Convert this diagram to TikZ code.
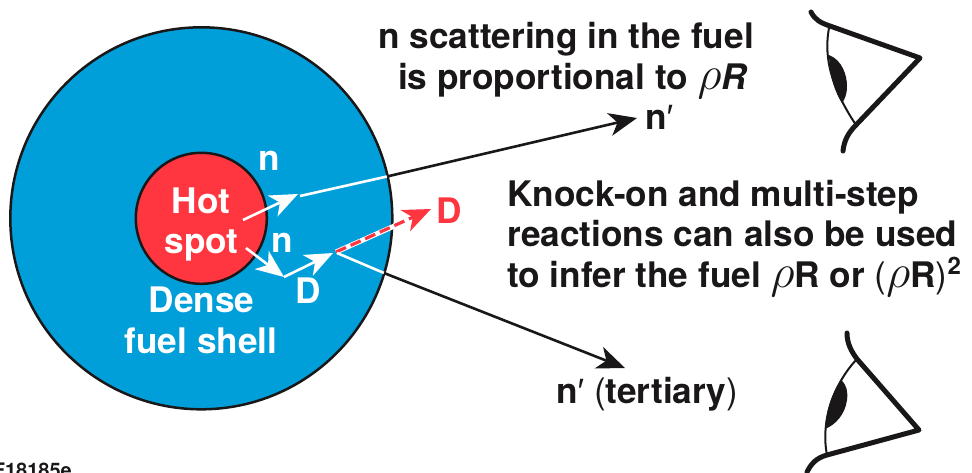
\documentclass[tikz,border=0pt]{standalone}
\usepackage{fontspec}
\setmainfont{TeX Gyre Heros}
\newfontfamily\primefont{Liberation Sans}
\usetikzlibrary{arrows.meta}
\definecolor{shellblue}{HTML}{009FDA}
\definecolor{spotred}{HTML}{FF3640}
\definecolor{inkblack}{HTML}{1A1718}
\newcommand{\rhoit}{\scalebox{1.9}{$\rho$}}
\newcommand{\primemark}{{\primefont\mdseries ′}}
\tikzset{
    lbl/.style={font=\fontsize{35.2}{42}\selectfont\bfseries, text=inkblack, inner sep=0pt, align=center, anchor=base},
    wlbl/.style={lbl, text=white},
    ray/.style={line width=2.6pt, color=inkblack},
    wray/.style={line width=2.6pt, color=white},
    tip/.style={-{Stealth[length=28pt, width=23pt, inset=8pt]}},
    eyelid/.style={line width=5pt, color=inkblack, line cap=round, line join=round},
    eyeline/.style={line width=2pt, color=inkblack}
}
\begin{document}
\begin{tikzpicture}[x=1pt, y=-1pt]
        \useasboundingbox (0,0) rectangle (972,472);

        \node[circle, draw=inkblack, line width=2.5pt, fill=shellblue, minimum size=382pt, inner sep=0pt] (shell) at (201.3,218.3) {};
        \node[circle, draw=inkblack, line width=2.5pt, fill=spotred, minimum size=131pt, inner sep=0pt] (spot) at (201.3,218.3) {};

        % points along the rays
        \coordinate (nA) at (243,220);
        \coordinate (nB) at (298,194);
        \coordinate (nC) at (300,196);
        \coordinate (nD) at (387,176.5);
        \coordinate (nE) at (637,118);
        \coordinate (mA) at (246,248);
        \coordinate (mB) at (284,277);
        \coordinate (mC) at (333,253);
        \coordinate (mD) at (336,252);
        \coordinate (mE) at (410,219);
        \coordinate (mF) at (431,209);
        \coordinate (tA) at (337,253);
        \coordinate (tB) at (384,273);
        \coordinate (tC) at (625,368);

        \draw[wray, tip] (nA) -- (nB);
        \draw[wray] (nC) -- (nD);
        \draw[ray, tip] (nD) -- (nE);
        \draw[wray, tip] (mA) -- (mB);
        \draw[wray, tip] (mB) -- (mC);
        \draw[wray, line width=5pt] (mD) -- (mE);
        \draw[color=spotred, line width=3.2pt, dash pattern=on 11pt off 5pt, tip] (mD) -- (mF);
        \draw[wray] (tA) -- (tB);
        \draw[ray, tip] (tB) -- (tC);

        \node[wlbl] (hot) at (201,213) {Hot};
        \node[wlbl] (spotlbl) at (201.5,253) {spot};
        \node[wlbl] (dense) at (201.5,312) {Dense};
        \node[wlbl] (fuel) at (201,353) {fuel shell};
        \node[wlbl] (nup) at (269.5,170) {n};
        \node[wlbl] (nlow) at (282.5,252) {n};
        \node[wlbl] (dlow) at (308,303) {D};
        \node[lbl, text=spotred] (dout) at (449,223) {D};
        \node[lbl, anchor=base west] (nprime) at (645,129) {n\primemark};
        \node[lbl, anchor=base west] (ntert) at (556,403) {n\primemark{} {\mdseries (}tertiary{\mdseries )}};
        \node[lbl, anchor=base east] (titleA) at (754,48) {n scattering in the fuel};
        \node[lbl, anchor=base east] (titleB) at (748,89) {is proportional to \rhoit\textit{R}};
        \node[lbl, anchor=base west] (knockA) at (507,206) {Knock-on and multi-step};
        \node[lbl, anchor=base west] (knockB) at (507,246) {reactions can also be used};
        \node[lbl, anchor=base west] (knockC) at (507,287) {to infer the fuel \rhoit R or {\mdseries (}\rhoit R{\mdseries )}\raisebox{13pt}{\fontsize{24}{24}\selectfont 2}};
        \node[font=\fontsize{20}{24}\selectfont\bfseries, text=inkblack, anchor=base east, inner sep=0pt] (figid) at (72,477.5) {F18185e};

        % upper eye
        \draw[eyelid] (811,12) .. controls (815,20) and (821,23) .. (830,26) -- (920,58) -- (856,125) .. controls (848,133) and (844,141) .. (843,151);
        \draw[eyeline] (829,28) .. controls (825,50) and (826,80) .. (856,125);
        \fill[inkblack] (829,55) .. controls (842,60) and (847,75) .. (847,86) .. controls (847,94) and (845,99) .. (842,103) .. controls (835,92) and (830,78) .. (829,55) -- cycle;

        % lower eye
        \draw[eyelid] (847,333) .. controls (847,343) and (851,351) .. (857,359) -- (919,430) -- (827,455) .. controls (816,458) and (811,464) .. (807,472);
        \draw[eyeline] (857,359) .. controls (835,382) and (820,420) .. (827,455);
        \fill[inkblack] (841,380) .. controls (847,385) and (848,392) .. (847,400) .. controls (845,415) and (835,425) .. (825,429) .. controls (826,410) and (832,393) .. (841,380) -- cycle;
\end{tikzpicture}
\end{document}
